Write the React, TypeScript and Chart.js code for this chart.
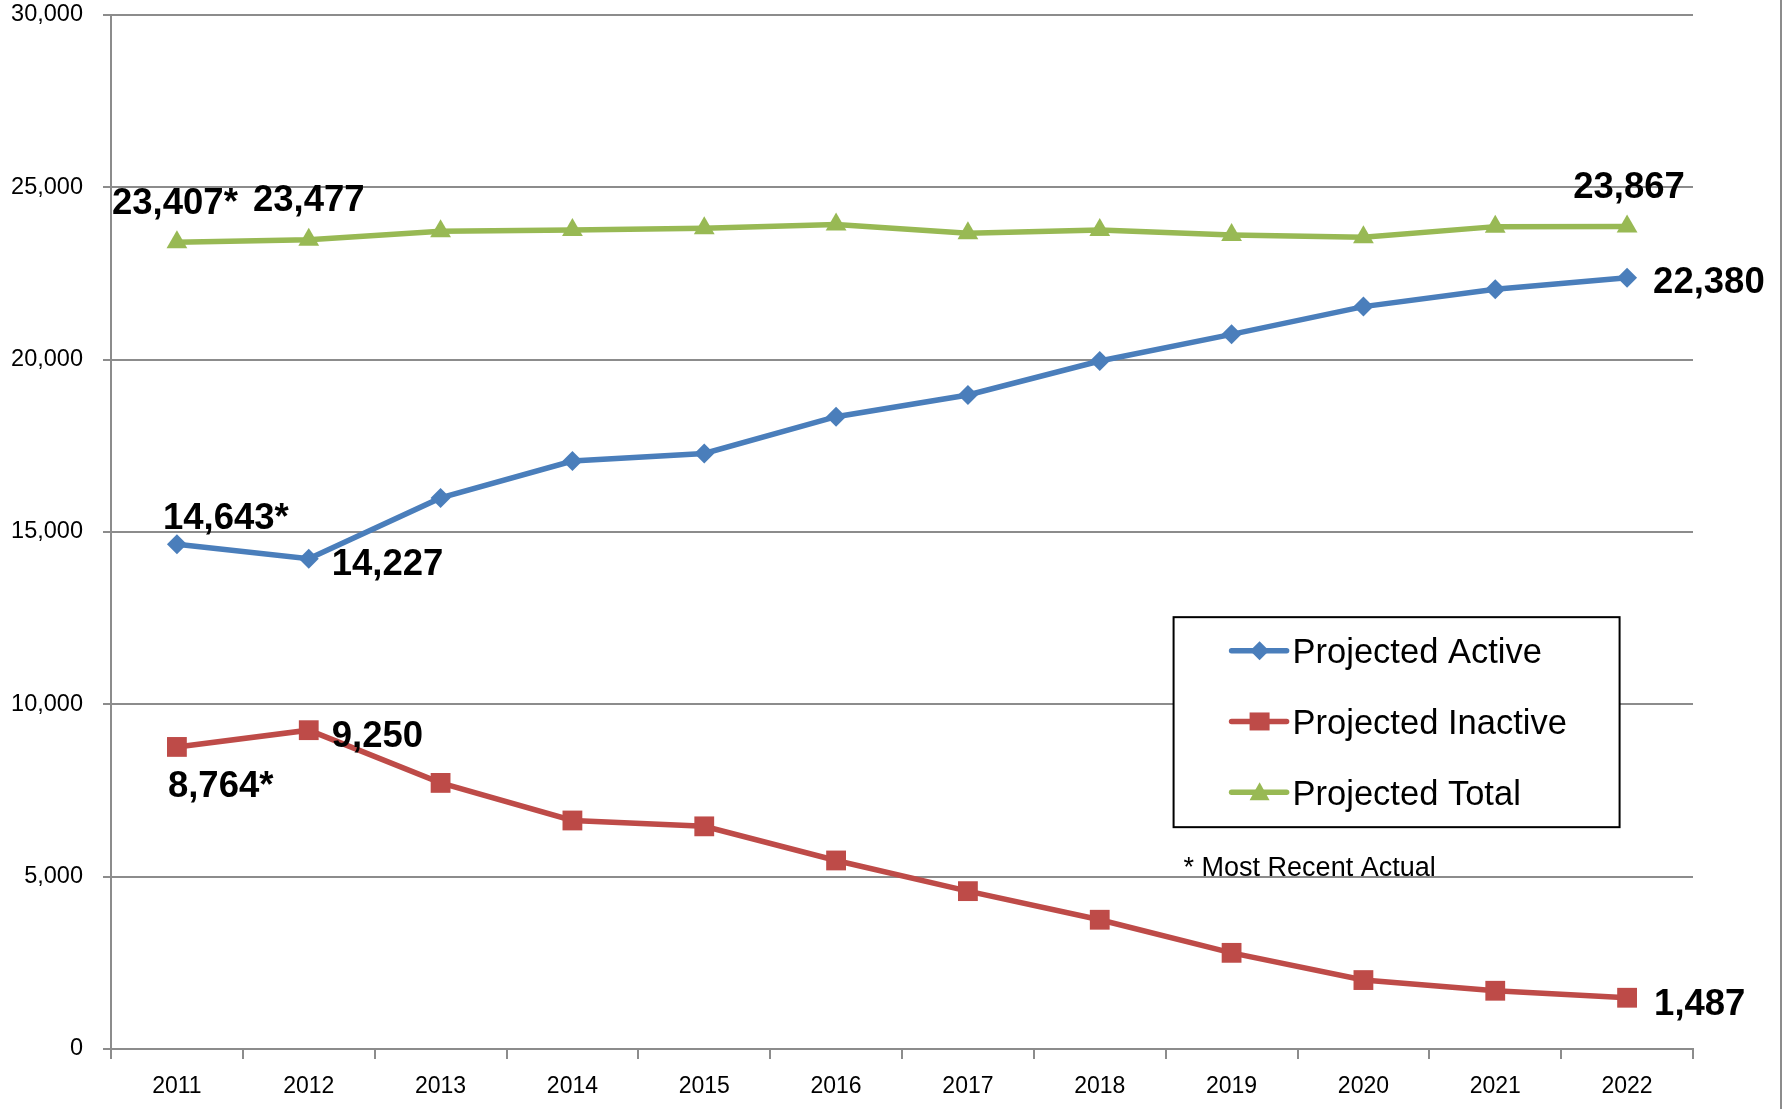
import React, { useEffect, useRef } from "react";
import { Chart, registerables } from "chart.js";

Chart.register(...registerables);

const years = ["2011", "2012", "2013", "2014", "2015", "2016", "2017", "2018", "2019", "2020", "2021", "2022"];
const activeValues = [14643, 14227, 15990, 17060, 17280, 18345, 18975, 19960, 20735, 21540, 22040, 22380];
const inactiveValues = [8764, 9250, 7720, 6630, 6460, 5470, 4580, 3750, 2790, 2000, 1690, 1487];
const totalValues = [23407, 23477, 23725, 23765, 23810, 23925, 23665, 23762, 23617, 23550, 23860, 23867];
const seriesNames = ["Projected Active", "Projected Inactive", "Projected Total"];
const yTicks = [0, 5000, 10000, 15000, 20000, 25000, 30000];
const actualIndexes = [0];
const footnote = "* Most Recent Actual";

const FONT = "'Liberation Sans', Arial, sans-serif";
const GRID = "#8c8c8c";
const COLORS = ["#4a7ebb", "#be4b48", "#98b954"];

const fmt = (v: number) => v.toLocaleString("en-US");

// [datasetIndex, pointIndex, align, dx, dy] — label styling positions
const labelPlacements: [number, number, string, number, number][] = [
  [2, 0, "center", -2, -41],
  [2, 1, "center", 0, -42],
  [2, 11, "center", 2, -41],
  [0, 0, "left", -14, -28],
  [0, 1, "left", 23, 3],
  [0, 11, "left", 26, 2],
  [1, 0, "left", -9, 37],
  [1, 1, "left", 23, 4],
  [1, 11, "left", 27, 4],
];

const allSeries = [activeValues, inactiveValues, totalValues];

const labelPlugin = {
  id: "valueLabels",
  afterDatasetsDraw(chart: any) {
    const ctx = chart.ctx;
    ctx.save();
    const size = 36.5;
    ctx.font = `bold ${size}px ${FONT}`;
    ctx.fillStyle = "#000";
    ctx.textBaseline = "alphabetic";
    for (const [ds, i, align, dx, dy] of labelPlacements) {
      const pt = chart.getDatasetMeta(ds).data[i];
      const text = fmt(allSeries[ds][i]) + (actualIndexes.includes(i) ? "*" : "");
      ctx.textAlign = align;
      ctx.fillText(text, pt.x + dx, pt.y + dy + size * 0.358);
    }
    ctx.restore();
  },
};

function drawMarker(ctx: CanvasRenderingContext2D, style: string, x: number, y: number, color: string) {
  ctx.fillStyle = color;
  ctx.beginPath();
  if (style === "rectRot") {
    ctx.moveTo(x - 9.5, y);
    ctx.lineTo(x, y - 9.5);
    ctx.lineTo(x + 9.5, y);
    ctx.lineTo(x, y + 9.5);
  } else if (style === "rect") {
    ctx.rect(x - 10, y - 9, 20, 18);
  } else {
    ctx.moveTo(x, y - 10);
    ctx.lineTo(x + 10, y + 8);
    ctx.lineTo(x - 10, y + 8);
  }
  ctx.closePath();
  ctx.fill();
}

const legendPlugin = {
  id: "boxLegend",
  afterDraw(chart: any) {
    const ctx = chart.ctx;
    const xs = chart.scales.x;
    const ys = chart.scales.y;
    // legend box anchored relative to scale positions
    const left = xs.getPixelForValue(8) - 58;
    const top = ys.getPixelForValue(12500) - 1;
    const w = 446;
    const h = 210;
    ctx.save();
    ctx.fillStyle = "#fff";
    ctx.fillRect(left, top, w, h);
    ctx.strokeStyle = "#000";
    ctx.lineWidth = 2;
    ctx.strokeRect(left, top, w, h);
    const styles = ["rectRot", "rect", "triangle"];
    chart.data.datasets.forEach((d: any, k: number) => {
      const cy = top + 33.5 + k * 70.8;
      ctx.strokeStyle = d.borderColor;
      ctx.lineWidth = 5.5;
      ctx.lineCap = "round";
      ctx.beginPath();
      ctx.moveTo(left + 58, cy);
      ctx.lineTo(left + 113, cy);
      ctx.stroke();
      drawMarker(ctx, styles[k], left + 86, cy, d.borderColor);
      ctx.fillStyle = "#000";
      ctx.font = `34.5px ${FONT}`;
      ctx.textAlign = "left";
      ctx.textBaseline = "alphabetic";
      ctx.fillText(d.label, left + 119, cy + 34.5 * 0.358);
    });
    ctx.font = `27px ${FONT}`;
    ctx.fillText(footnote, left + 10, ys.getPixelForValue(5000) - 0.5);
    ctx.restore();
  },
};

export default function App() {
  const ref = useRef<HTMLCanvasElement | null>(null);
  useEffect(() => {
    const canvas = ref.current!;
    const chart = new Chart(canvas, {
      type: "line",
      data: {
        labels: years,
        datasets: [
          {
            label: seriesNames[0],
            data: activeValues,
            borderColor: COLORS[0],
            backgroundColor: COLORS[0],
            borderWidth: 5.5,
            pointStyle: "rectRot",
            pointRadius: 10,
            pointBorderWidth: 0,
            tension: 0,
          },
          {
            label: seriesNames[1],
            data: inactiveValues,
            borderColor: COLORS[1],
            backgroundColor: COLORS[1],
            borderWidth: 5.5,
            pointStyle: "rect",
            pointRadius: 14,
            pointBorderWidth: 0,
            tension: 0,
          },
          {
            label: seriesNames[2],
            data: totalValues,
            borderColor: COLORS[2],
            backgroundColor: COLORS[2],
            borderWidth: 5.5,
            pointStyle: "triangle",
            pointRadius: 12,
            pointBorderWidth: 0,
            tension: 0,
          },
        ],
      },
      options: {
        responsive: false,
        animation: false,
        layout: { padding: { left: 0, top: 15, right: 94, bottom: 0 } },
        plugins: {
          legend: { display: false },
          tooltip: { enabled: false },
        },
        scales: {
          x: {
            offset: true,
            grid: {
              offset: true,
              drawOnChartArea: false,
              color: GRID,
              lineWidth: 2,
              tickLength: 10,
            },
            border: { color: GRID, width: 2 },
            ticks: {
              color: "#000",
              font: { family: FONT, size: 23 },
              padding: 14,
              maxRotation: 0,
            },
            afterFit: (s: any) => {
              s.height = 60;
              s.paddingLeft = 0;
              s.paddingRight = 0;
            },
          },
          y: {
            min: 0,
            max: 30000,
            afterBuildTicks: (s: any) => {
              s.ticks = yTicks.map((v) => ({ value: v }));
            },
            grid: { color: GRID, lineWidth: 2, tickLength: 8 },
            border: { color: GRID, width: 2 },
            ticks: {
              color: "#000",
              font: { family: FONT, size: 23.5 },
              padding: 20,
              callback: (v: any) => fmt(Number(v)),
            },
            afterFit: (s: any) => {
              s.width = 111;
              s.paddingTop = 0;
              s.paddingBottom = 0;
            },
          },
        },
      },
      plugins: [labelPlugin, legendPlugin],
    });
    return () => chart.destroy();
  }, []);
  return (
    <div style={{ position: "fixed", left: 0, top: 0, width: 1787, height: 1109, background: "#fff" }}>
      <canvas ref={ref} width={1787} height={1109} style={{ display: "block" }} />
      <div style={{ position: "absolute", left: 1780, top: 0, width: 2, height: 1109, background: GRID }} />
    </div>
  );
}
